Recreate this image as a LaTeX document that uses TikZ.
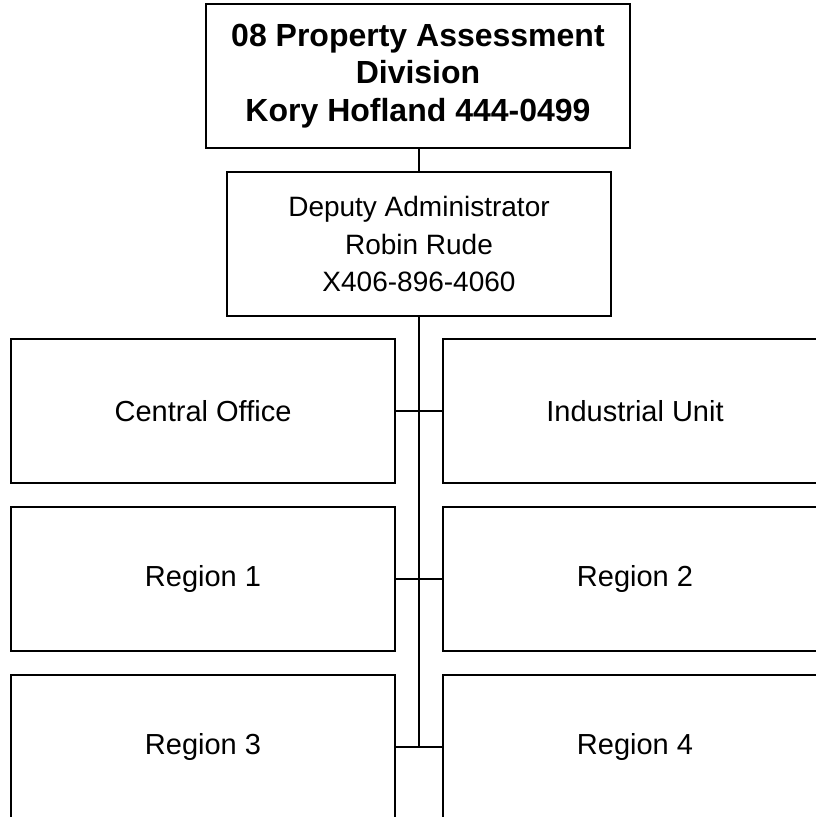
\documentclass[tikz,border=0pt]{standalone}
\usepackage{fontspec}
\setmainfont{Liberation Sans}
\begin{document}
\begin{tikzpicture}[x=1pt,y=-1pt,
  box/.style={draw,line width=1.3pt,minimum width=384pt,minimum height=144pt,inner sep=0pt,align=center,font=\fontsize{29}{37.5}\selectfont},
  depbox/.style={box,font=\fontsize{28}{37.5}\selectfont},
  topbox/.style={box,minimum width=424pt,font=\bfseries\fontsize{32}{37.5}\selectfont},
  conn/.style={line width=1.3pt}]
\useasboundingbox (0,0) rectangle (815,817);
\node[topbox] (top) at (418,76) {08 Property Assessment\\Division\\Kory Hofland 444-0499};
\node[depbox] (dep) at (419,244) {Deputy Administrator\\Robin Rude\\X406-896-4060};
\node[box] (co) at (203,411) {Central Office};
\node[box] (iu) at (635,411) {Industrial Unit};
\node[box] (r1) at (203,579) {Region 1};
\node[box] (r2) at (635,579) {Region 2};
\node[box] (r3) at (203,747) {Region 3};
\node[box] (r4) at (635,747) {Region 4};
\coordinate (j3) at (419,747);
\draw[conn] (dep.north) -- (dep.north |- top.south);
\draw[conn] (dep.south) -- (j3);
\draw[conn] (co.east) -- (iu.west);
\draw[conn] (r1.east) -- (r2.west);
\draw[conn] (r3.east) -- (r4.west);
\end{tikzpicture}
\end{document}
